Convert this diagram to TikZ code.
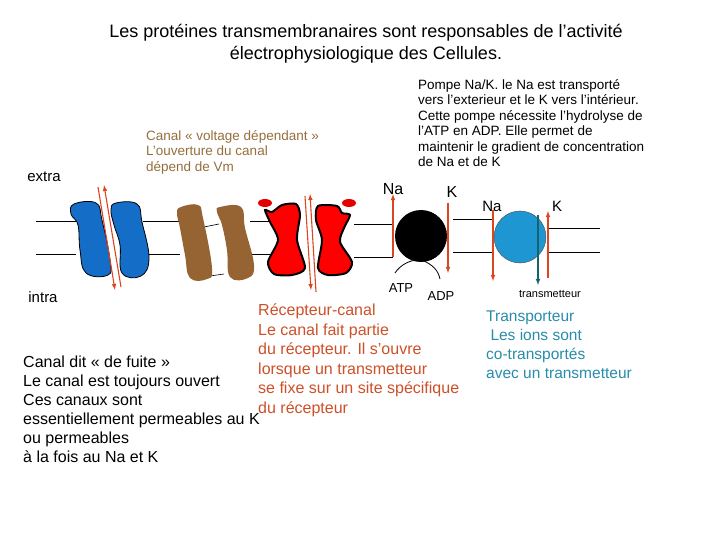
\documentclass[tikz,border=0pt]{standalone}
\usepackage{fontspec}
\setmainfont{Liberation Sans}
\begin{document}
\begin{tikzpicture}[x=1pt,y=-1pt,
  txt/.style={font=\fontsize{13.5}{15.5}\selectfont,align=left,inner sep=0pt},
  blu/.style={fill={rgb,255:red,20;green,110;blue,200},draw=black,line width=0.8pt},
  brn/.style={fill={rgb,255:red,150;green,100;blue,50},draw=none},
  rd/.style={fill=red,draw=black,line width=2pt},
  ion/.style={draw={rgb,255:red,220;green,70;blue,30},line width=1.1pt,-latex},
  mem/.style={line width=0.6pt}]
\useasboundingbox (0,0) rectangle (720,540);
\node[font=\fontsize{18}{22}\selectfont,align=center] (title) at (366,44) {Les protéines transmembranaires sont responsables de l'activité\\électrophysiologique des Cellules.};
% membranes
\foreach \y in {221,254}{
 \draw[mem] (36,\y) -- (76,\y); \draw[mem] (143,\y) -- (180,\y);
 \draw[mem] (250,\y) -- (270,\y); \draw[mem] (354,\y+3) -- (393,\y+3);}
\draw[mem] (453,219) -- (493,219); \draw[mem] (453,252) -- (493,252);
\draw[mem] (548,228) -- (600,228); \draw[mem] (548,252) -- (600,252);
\draw[mem] (204,227) -- (219,224); \draw[mem] (210,276) -- (224,274);
% blue channel
\path[blu] plot[smooth cycle,tension=0.7] coordinates {(74,204)(96,203)(102,220)(110,260)(108,275)(86,273)(80,250)(78,225)(71,214)};
\path[blu] plot[smooth cycle,tension=0.7] coordinates {(116,203)(137,204)(142,222)(149,258)(141,276)(122,273)(120,245)(114,225)(111,210)};
% brown channel
\path[brn] plot[smooth cycle,tension=0.7] coordinates {(181,207)(198,205)(203,218)(212,268)(207,279)(190,278)(185,255)(180,228)(177,213)};
\path[brn] plot[smooth cycle,tension=0.7] coordinates {(220,207)(241,207)(245,228)(254,265)(248,278)(230,277)(227,250)(222,225)(217,212)};
% red channel
\path[rd] plot[smooth cycle,tension=0.45] coordinates {(265,210)(272,212)(282,205)(296,204)(300,215)(297,240)(305,268)(292,275)(274,274)(268,262)(278,240)(270,222)};
\path[rd] plot[smooth cycle,tension=0.45] coordinates {(318,206)(337,206)(342,213)(350,215)(344,228)(340,242)(352,262)(346,273)(328,275)(318,268)(322,240)(316,220)};
\fill[red!90!black] (265,203) ellipse (7 and 4); \fill[red!90!black] (349,203) ellipse (7 and 4);
% leak arrows
\draw[ion] (98,187) -- (115,290); \draw[ion] (121,287) -- (104,185);
\draw[ion] (305,196) -- (311,290); \draw[ion] (316,292) -- (310,194);
% pumps
\node[circle,fill=black,minimum size=52pt,inner sep=0pt] (pump) at (421,236) {};
\node[circle,fill={rgb,255:red,30;green,150;blue,210},draw=black!70,minimum size=52pt,inner sep=0pt] (trans) at (520,237) {};
\draw[line width=0.8pt] (395,273) .. controls (400,265) and (410,260) .. (418,260);
\draw[line width=0.8pt] (422,260) .. controls (433,265) and (438,270) .. (440,279);
\coordinate (naA) at (393,257); \coordinate (naB) at (393,194);
\draw[ion] (naA) -- (naB);
\coordinate (kA) at (448,203); \coordinate (kB) at (448,273);
\draw[ion] (kA) -- (kB);
\coordinate (nA) at (493,210); \coordinate (nB) at (493,281);
\draw[ion] (nA) -- (nB);
\coordinate (kkA) at (548,278); \coordinate (kkB) at (548,211);
\draw[ion] (kkA) -- (kkB);
\coordinate (tA) at (538,215); \coordinate (tB) at (538,285);
\draw[draw={rgb,255:red,20;green,100;blue,110},line width=1.1pt,-latex] (tA) -- (tB);
% labels
\node[font=\fontsize{16}{18}\selectfont] (na1) at (393,189) {Na};
\node[font=\fontsize{16}{18}\selectfont] (k1) at (452,192) {K};
\node[font=\fontsize{15}{18}\selectfont] (na2) at (492,206) {Na};
\node[font=\fontsize{15}{18}\selectfont] (k2) at (557,206) {K};
\node[font=\fontsize{13}{16}\selectfont] (atp) at (401,288) {ATP};
\node[font=\fontsize{13}{16}\selectfont] (adp) at (441,296) {ADP};
\node[font=\fontsize{11}{13}\selectfont] (tr) at (550,294) {transmetteur};
\node[font=\fontsize{15}{18}\selectfont] (extra) at (44,177) {extra};
\node[font=\fontsize{15}{18}\selectfont] (intra) at (43,297) {intra};
\node[txt,anchor=north west,text={rgb,255:red,150;green,110;blue,60}] (volt) at (146,130) {Canal « voltage dépendant »\\L'ouverture du canal\\dépend de Vm};
\node[txt,anchor=north west] (pompe) at (418,79) {Pompe Na/K. le Na est transporté\\vers l'exterieur et le K vers l'intérieur.\\Cette pompe nécessite l'hydrolyse de\\l'ATP en ADP. Elle permet de\\maintenir le gradient de concentration\\de Na et de K};
\node[txt,anchor=north west,text={rgb,255:red,205;green,80;blue,40},font=\fontsize{16}{19.5}\selectfont] (rec) at (258,304) {Récepteur-canal\\Le canal fait partie\\du récepteur. Il s'ouvre\\lorsque un transmetteur\\se fixe sur un site spécifique\\du récepteur};
\node[txt,anchor=north west,font=\fontsize{16}{19}\selectfont] (fuite) at (23,356) {Canal dit « de fuite »\\Le canal est toujours ouvert\\Ces canaux sont\\essentiellement permeables au K\\ou permeables\\à la fois au Na et K};
\node[txt,anchor=north west,text={rgb,255:red,40;green,140;blue,170},font=\fontsize{15.5}{19}\selectfont] (transp) at (486,311) {Transporteur\\\ Les ions sont\\co-transportés\\avec un transmetteur};
\end{tikzpicture}
\end{document}
